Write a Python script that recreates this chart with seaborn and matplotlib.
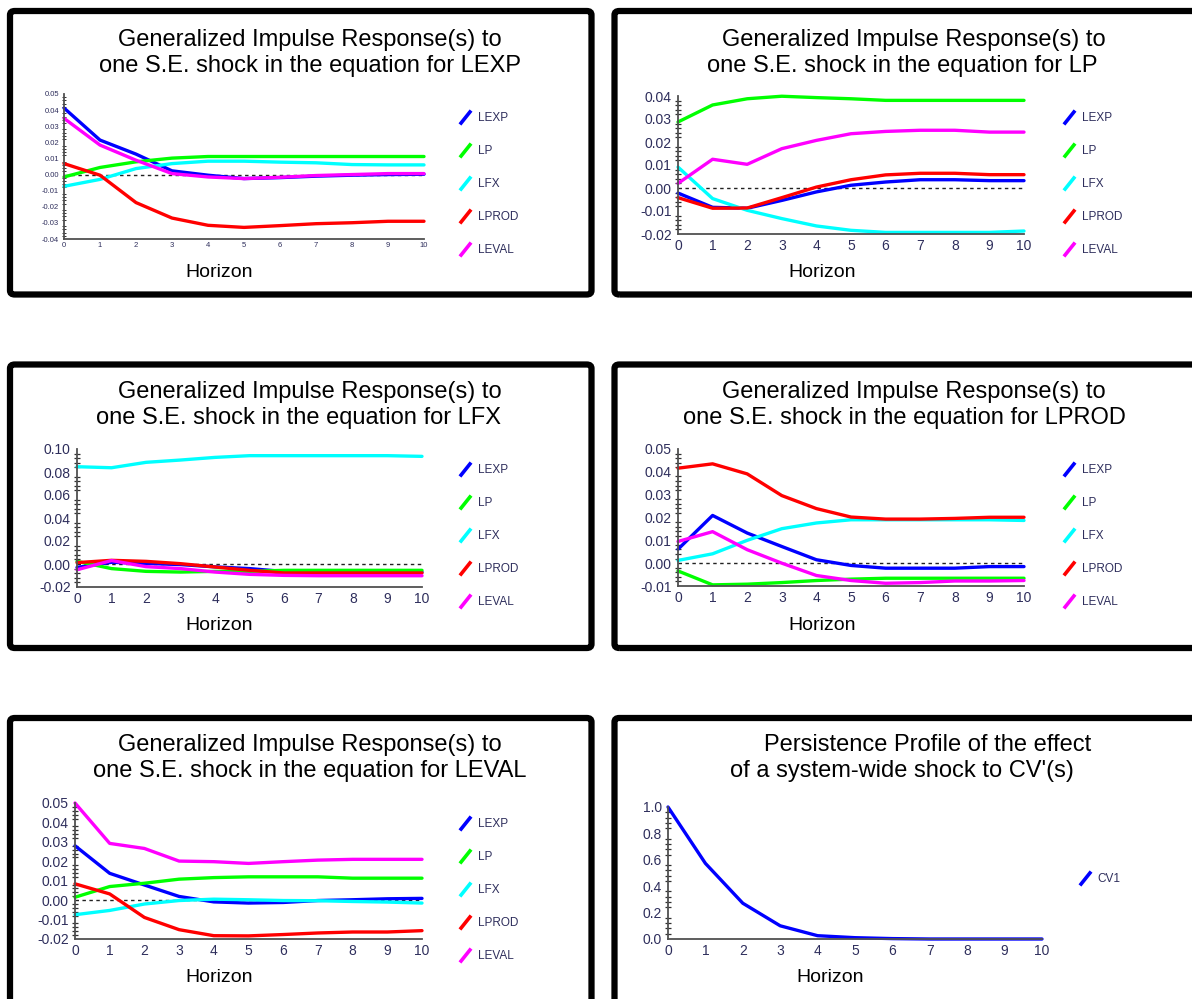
import pandas as pd
import matplotlib.pyplot as plt
import seaborn as sns
from matplotlib.patches import FancyBboxPatch
from matplotlib.lines import Line2D
from matplotlib.path import Path
from matplotlib.ticker import MultipleLocator, AutoMinorLocator, FormatStrFormatter

sns.set_style('white')
plt.rcParams['font.family'] = ['Liberation Sans', 'DejaVu Sans']

# horizons and variable names
horizon = list(range(11))
variables = ['LEXP', 'LP', 'LFX', 'LPROD', 'LEVAL']
palette = {'LEXP': '#0000ff', 'LP': '#00ff00', 'LFX': '#00ffff',
           'LPROD': '#ff0000', 'LEVAL': '#ff00ff', 'CV1': '#0000ff'}

# responses to a shock in the equation for LEXP
resp_lexp = {
    'LEXP':  [0.0413, 0.0214, 0.0127, 0.0023, -0.0004, -0.0025, -0.0019, -0.0010, -0.0004, 0.0000, 0.0002],
    'LP':    [-0.0015, 0.0044, 0.0079, 0.0102, 0.0112, 0.0112, 0.0112, 0.0112, 0.0112, 0.0112, 0.0112],
    'LFX':   [-0.0073, -0.0030, 0.0037, 0.0068, 0.0083, 0.0083, 0.0077, 0.0073, 0.0062, 0.0060, 0.0060],
    'LPROD': [0.0068, -0.0004, -0.0174, -0.0270, -0.0315, -0.0328, -0.0317, -0.0305, -0.0299, -0.0290, -0.0290],
    'LEVAL': [0.0349, 0.0183, 0.0089, 0.0006, -0.0015, -0.0025, -0.0017, -0.0006, 0.0000, 0.0006, 0.0006],
}
# responses to a shock in the equation for LP
resp_lp = {
    'LEXP':  [-0.0022, -0.0084, -0.0088, -0.0054, -0.0017, 0.0012, 0.0026, 0.0036, 0.0036, 0.0032, 0.0032],
    'LP':    [0.0287, 0.0361, 0.0388, 0.0399, 0.0393, 0.0388, 0.0381, 0.0381, 0.0381, 0.0381, 0.0381],
    'LFX':   [0.0091, -0.0046, -0.0097, -0.0133, -0.0165, -0.0184, -0.0193, -0.0193, -0.0193, -0.0193, -0.0187],
    'LPROD': [-0.0042, -0.0088, -0.0087, -0.0042, 0.0004, 0.0036, 0.0057, 0.0064, 0.0064, 0.0058, 0.0058],
    'LEVAL': [0.0020, 0.0125, 0.0103, 0.0171, 0.0207, 0.0236, 0.0246, 0.0251, 0.0251, 0.0243, 0.0243],
}
# responses to a shock in the equation for LFX
resp_lfx = {
    'LEXP':  [-0.0030, 0.0015, 0.0005, -0.0005, -0.0025, -0.0040, -0.0065, -0.0070, -0.0070, -0.0070, -0.0070],
    'LP':    [0.0023, -0.0040, -0.0064, -0.0070, -0.0064, -0.0064, -0.0055, -0.0055, -0.0055, -0.0055, -0.0055],
    'LFX':   [0.0846, 0.0837, 0.0884, 0.0904, 0.0927, 0.0942, 0.0942, 0.0942, 0.0942, 0.0942, 0.0936],
    'LPROD': [0.0012, 0.0032, 0.0023, 0.0003, -0.0026, -0.0055, -0.0078, -0.0078, -0.0078, -0.0078, -0.0078],
    'LEVAL': [-0.0050, 0.0030, -0.0023, -0.0040, -0.0070, -0.0090, -0.0099, -0.0102, -0.0102, -0.0102, -0.0102],
}
# responses to a shock in the equation for LPROD
resp_lprod = {
    'LEXP':  [0.0061, 0.0209, 0.0132, 0.0073, 0.0015, -0.0010, -0.0022, -0.0022, -0.0022, -0.0015, -0.0015],
    'LP':    [-0.0034, -0.0095, -0.0092, -0.0085, -0.0076, -0.0070, -0.0066, -0.0066, -0.0066, -0.0066, -0.0066],
    'LFX':   [0.0012, 0.0041, 0.0100, 0.0151, 0.0176, 0.0190, 0.0190, 0.0190, 0.0190, 0.0190, 0.0187],
    'LPROD': [0.0416, 0.0435, 0.0391, 0.0296, 0.0239, 0.0202, 0.0193, 0.0193, 0.0196, 0.0201, 0.0201],
    'LEVAL': [0.0095, 0.0138, 0.0059, 0.0000, -0.0054, -0.0076, -0.0088, -0.0085, -0.0078, -0.0078, -0.0076],
}
# responses to a shock in the equation for LEVAL
resp_leval = {
    'LEXP':  [0.0280, 0.0138, 0.0078, 0.0019, -0.0009, -0.0015, -0.0012, -0.0002, 0.0002, 0.0007, 0.0009],
    'LP':    [0.0015, 0.0070, 0.0087, 0.0108, 0.0116, 0.0120, 0.0120, 0.0120, 0.0113, 0.0113, 0.0113],
    'LFX':   [-0.0075, -0.0053, -0.0020, -0.0002, 0.0005, 0.0002, -0.0002, -0.0003, -0.0007, -0.0010, -0.0015],
    'LPROD': [0.0084, 0.0032, -0.0089, -0.0152, -0.0183, -0.0184, -0.0177, -0.0169, -0.0164, -0.0164, -0.0157],
    'LEVAL': [0.0500, 0.0292, 0.0266, 0.0201, 0.0198, 0.0189, 0.0198, 0.0206, 0.0210, 0.0210, 0.0210],
}
# persistence profile
persist_cv = {'CV1': [1.0, 0.573, 0.271, 0.100, 0.025, 0.010, 0.003, 0.0, 0.0, 0.0, 0.0]}

W, H = 1192, 999
fig = plt.figure(figsize=(W / 100, H / 100), dpi=100)


def fx(px):
    return px / W


def fy(py):
    return 1 - py / H


# panel frames (left, top, right, bottom) in pixels; right column and last row run off the page
frames = [(10, 11, 591.5, 294.5), (614.5, 11, 1215, 294.5),
          (10, 364.5, 591.5, 648), (614.5, 364.5, 1215, 648),
          (10, 718, 591.5, 1020), (614.5, 718, 1215, 1020)]
for l, t, r, b in frames:
    fig.patches.append(FancyBboxPatch((fx(l), fy(b)), fx(r) - fx(l), fy(t) - fy(b),
                                      boxstyle='round,pad=0,rounding_size=0.004',
                                      transform=fig.transFigure, fill=False,
                                      ec='black', lw=4.5, zorder=0))

panels = [
    dict(data=resp_lexp, box=(64, 94, 424, 239), ylim=(-0.04, 0.05), step=0.01, fmt='%.2f',
         title=[('Generalized Impulse Response(s) to', 310, 40),
                ('one S.E. shock in the equation for LEXP', 310, 66)],
         xlab=(219, 272), leg=(460, 112), small=True),
    dict(data=resp_lp, box=(678, 96, 1024, 234), ylim=(-0.02, 0.04), step=0.01, fmt='%.2f',
         title=[('Generalized Impulse Response(s) to', 914, 40),
                ('one S.E. shock in the equation for LP', 902, 66)],
         xlab=(822, 272), leg=(1064, 112), small=False),
    dict(data=resp_lfx, box=(77, 449, 422, 587), ylim=(-0.02, 0.10), step=0.02, fmt='%.2f',
         title=[('Generalized Impulse Response(s) to', 310, 392),
                ('one S.E. shock in the equation for LFX', 298, 418)],
         xlab=(219, 625), leg=(460, 464), small=False),
    dict(data=resp_lprod, box=(678, 449, 1024, 586), ylim=(-0.01, 0.05), step=0.01, fmt='%.2f',
         title=[('Generalized Impulse Response(s) to', 914, 392),
                ('one S.E. shock in the equation for LPROD', 904, 418)],
         xlab=(822, 625), leg=(1064, 464), small=False),
    dict(data=resp_leval, box=(75, 803, 422, 939), ylim=(-0.02, 0.05), step=0.01, fmt='%.2f',
         title=[('Generalized Impulse Response(s) to', 310, 745),
                ('one S.E. shock in the equation for LEVAL', 310, 771)],
         xlab=(219, 977), leg=(460, 818), small=False),
    dict(data=persist_cv, box=(668, 807, 1042, 939), ylim=(0.0, 1.0), step=0.2, fmt='%.1f',
         title=[('Persistence Profile of the effect', 928, 745),
                ("of a system-wide shock to CV'(s)", 902, 771)],
         xlab=(830, 977), leg=(1080, 873), small=False),
]

label_col = '#2e2e5c'
diag = Path([(-0.4, -0.5), (0.4, 0.5)], [Path.MOVETO, Path.LINETO])

for p in panels:
    l, t, r, b = p['box']
    ax = fig.add_axes([fx(l), fy(b), fx(r) - fx(l), fy(t) - fy(b)])
    names = list(p['data'].keys())
    df = pd.DataFrame({'Horizon': horizon * len(names),
                       'Series': [n for n in names for _ in horizon],
                       'Value': [v for n in names for v in p['data'][n]]})
    sns.lineplot(data=df, x='Horizon', y='Value', hue='Series', hue_order=names,
                 palette=palette, linewidth=2.4, legend=False, ax=ax)
    for ln in ax.lines:
        ln.set_clip_on(False)
        ln.set_solid_joinstyle('round')
    if p['ylim'][0] < 0:
        ax.axhline(0, color='#222222', lw=1, ls=(0, (2.5, 2.5)), zorder=0)
    ax.set_xlim(0, 10)
    ax.set_ylim(*p['ylim'])
    ax.set_xlabel('')
    ax.set_ylabel('')
    ax.xaxis.set_major_locator(MultipleLocator(1))
    ax.yaxis.set_major_locator(MultipleLocator(p['step']))
    ax.yaxis.set_minor_locator(AutoMinorLocator(5))
    ax.yaxis.set_major_formatter(FormatStrFormatter(p['fmt']))
    sns.despine(ax=ax)
    for s in ['left', 'bottom']:
        ax.spines[s].set_color('#505050')
        ax.spines[s].set_linewidth(1.3)
    small = p['small']
    fs = 5.5 if small else 10
    ax.tick_params(axis='both', which='major', direction='inout', length=5 if small else 7,
                   width=1.1, color='#303030', labelsize=fs, labelcolor=label_col, pad=1)
    ax.tick_params(axis='y', which='minor', left=True, direction='inout',
                   length=2.5 if small else 4.5, width=0.7 if small else 0.9, color='#303030')
    ax.tick_params(axis='x', which='minor', length=0)
    ax.tick_params(axis='x', which='major', pad=0)

    for txt, cx, cy in p['title']:
        fig.text(fx(cx), fy(cy), txt, ha='center', va='center', fontsize=17, color='black')
    fig.text(fx(p['xlab'][0]), fy(p['xlab'][1]), 'Horizon', ha='center', va='center',
             fontsize=14, color='black')

    handles = [Line2D([], [], color=palette[n], marker=diag, linestyle='None', markersize=10,
                      markeredgewidth=2.6, markeredgecolor=palette[n]) for n in names]
    fig.legend(handles, names, loc='upper left',
               bbox_to_anchor=(fx(p['leg'][0]), fy(p['leg'][1])), bbox_transform=fig.transFigure,
               frameon=False, fontsize=8.5, labelcolor=label_col, handlelength=0.8,
               handletextpad=0.7, labelspacing=1.78, borderpad=0, borderaxespad=0)

fig.savefig('out.png', dpi=100)
